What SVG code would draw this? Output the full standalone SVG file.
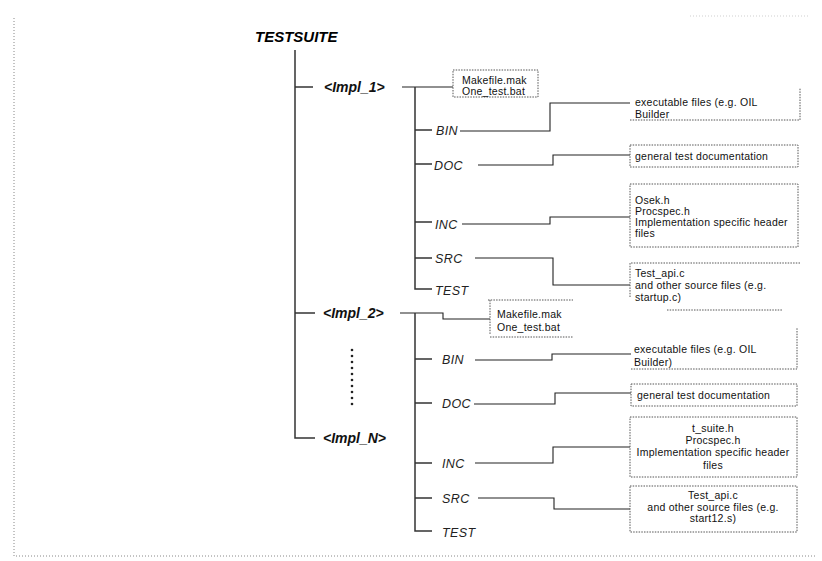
<svg xmlns="http://www.w3.org/2000/svg" width="822" height="561" viewBox="0 0 822 561">
<style>
  .title { font-family: "Liberation Sans", Arial, sans-serif; font-size: 15px; font-weight: bold; font-style: italic; fill: #000; }
  .impl { font-family: "Liberation Sans", Arial, sans-serif; font-size: 14px; font-weight: bold; font-style: italic; fill: #111; }
  .dir { font-family: "Liberation Sans", Arial, sans-serif; font-size: 12.5px; font-style: italic; fill: #222; letter-spacing: 0.4px; }
  .txt { font-family: "Liberation Sans", Arial, sans-serif; font-size: 10.5px; fill: #111; letter-spacing: 0.25px; }
  .mid { text-anchor: middle; }
  .tree { fill: none; stroke: #333; stroke-width: 1.5; }
  .conn { fill: none; stroke: #222; stroke-width: 1.1; }
  .box { fill: none; stroke: #555; stroke-width: 1; stroke-dasharray: 1.5 1.2; }
  .frame { fill: none; stroke: #888; stroke-width: 1; stroke-dasharray: 1 2; }
  .dot { fill: #222; }
</style>

<g id="frame">
  <path class="frame" d="M14,18 V556 H815"/>
  <path class="frame" d="M690,16 H810" stroke-opacity="0.4"/>
</g>

<g id="connectors">
  <!-- main tree -->
  <path class="tree" d="M295,50 V438 H315"/>
  <path class="tree" d="M295,87 H313"/>
  <path class="tree" d="M295,313 H315"/>
  <!-- Impl_1 subtree -->
  <path class="conn" d="M402,87 H453"/>
  <path class="tree" d="M415,87 V289 H432"/>
  <path class="tree" d="M415,130 H432 M415,164 H432 M415,222 H432 M415,258 H432"/>
  <path class="conn" d="M460,131 H550 V103 H630"/>
  <path class="conn" d="M478,165 H553 V155 H630"/>
  <path class="conn" d="M462,224 H550 V217 H630"/>
  <path class="conn" d="M475,258 H553 V285 H630"/>
  <!-- Impl_2 subtree -->
  <path class="conn" d="M400,313 H443 V319 H490"/>
  <path class="tree" d="M415,313 V531 H432"/>
  <path class="tree" d="M415,359 H432 M415,403 H432 M415,463 H432 M415,498 H432"/>
  <path class="conn" d="M475,360 H552 V354 H631"/>
  <path class="conn" d="M474,404 H555 V393 H631"/>
  <path class="conn" d="M475,463 H553 V447 H630"/>
  <path class="conn" d="M478,498 H554 V509 H630"/>
</g>

<g id="testsuite"><text class="title" x="255" y="42">TESTSUITE</text></g>

<g id="impl1">
  <text class="impl" x="324" y="92">&lt;Impl_1&gt;</text>
</g>
<g id="impl1-dirs">
  <text class="dir" x="436" y="135">BIN</text>
  <text class="dir" x="434" y="170">DOC</text>
  <text class="dir" x="435" y="229">INC</text>
  <text class="dir" x="435" y="263">SRC</text>
  <text class="dir" x="435" y="295">TEST</text>
</g>
<g id="impl1-make">
  <rect class="box" x="453" y="70" width="85" height="27"/>
  <text class="txt" x="462" y="84">Makefile.mak</text>
  <text class="txt" x="462" y="95">One_test.bat</text>
</g>
<g id="impl1-bin">
  <path class="box" d="M630,120 H800 V88"/>
  <text class="txt" x="635" y="106">executable files (e.g. OIL</text>
  <text class="txt" x="635" y="118">Builder</text>
</g>
<g id="impl1-doc">
  <rect class="box" x="630" y="145" width="168" height="22"/>
  <text class="txt" x="635" y="160">general test documentation</text>
</g>
<g id="impl1-inc">
  <rect class="box" x="630" y="184" width="168" height="63"/>
  <text class="txt" x="635" y="204">Osek.h</text>
  <text class="txt" x="635" y="215">Procspec.h</text>
  <text class="txt" x="635" y="226">Implementation specific header</text>
  <text class="txt" x="635" y="237">files</text>
</g>
<g id="impl1-src">
  <path class="box" d="M630,297 V263 H800 M667,310 H782"/>
  <text class="txt" x="635" y="277">Test_api.c</text>
  <text class="txt" x="635" y="289">and other source files (e.g.</text>
  <text class="txt" x="635" y="301">startup.c)</text>
</g>

<g id="impl2">
  <text class="impl" x="323" y="318">&lt;Impl_2&gt;</text>
</g>
<g id="impl2-dirs">
  <text class="dir" x="442" y="364">BIN</text>
  <text class="dir" x="442" y="408">DOC</text>
  <text class="dir" x="442" y="468">INC</text>
  <text class="dir" x="442" y="503">SRC</text>
  <text class="dir" x="442" y="537">TEST</text>
</g>
<g id="impl2-make">
  <path class="box" d="M488,300 H573 M490,300 V335 M490,337 H573"/>
  <text class="txt" x="497" y="318">Makefile.mak</text>
  <text class="txt" x="497" y="331">One_test.bat</text>
</g>
<g id="impl2-bin">
  <path class="box" d="M631,369 H797 V328"/>
  <text class="txt" x="634" y="353">executable files (e.g. OIL</text>
  <text class="txt" x="634" y="366">Builder)</text>
</g>
<g id="impl2-doc">
  <rect class="box" x="631" y="384" width="166" height="22"/>
  <text class="txt" x="637" y="399">general test documentation</text>
</g>
<g id="impl2-inc">
  <rect class="box" x="630" y="417" width="167" height="60"/>
  <text class="txt mid" x="713" y="432">t_suite.h</text>
  <text class="txt mid" x="713" y="444">Procspec.h</text>
  <text class="txt mid" x="713" y="456">Implementation specific header</text>
  <text class="txt mid" x="713" y="469">files</text>
</g>
<g id="impl2-src">
  <rect class="box" x="630" y="486" width="167" height="46"/>
  <text class="txt mid" x="713" y="499">Test_api.c</text>
  <text class="txt mid" x="713" y="511">and other source files (e.g.</text>
  <text class="txt mid" x="713" y="522">start12.s)</text>
</g>

<g id="ellipsis">
  <circle class="dot" cx="352" cy="350" r="1.3"/>
  <circle class="dot" cx="352" cy="356" r="1.3"/>
  <circle class="dot" cx="352" cy="362" r="1.3"/>
  <circle class="dot" cx="352" cy="368" r="1.3"/>
  <circle class="dot" cx="352" cy="374" r="1.3"/>
  <circle class="dot" cx="352" cy="380" r="1.3"/>
  <circle class="dot" cx="352" cy="386" r="1.3"/>
  <circle class="dot" cx="352" cy="392" r="1.3"/>
  <circle class="dot" cx="352" cy="398" r="1.3"/>
  <circle class="dot" cx="352" cy="404" r="1.3"/>
</g>

<g id="implN">
  <text class="impl" x="323" y="443">&lt;Impl_N&gt;</text>
</g>
</svg>
